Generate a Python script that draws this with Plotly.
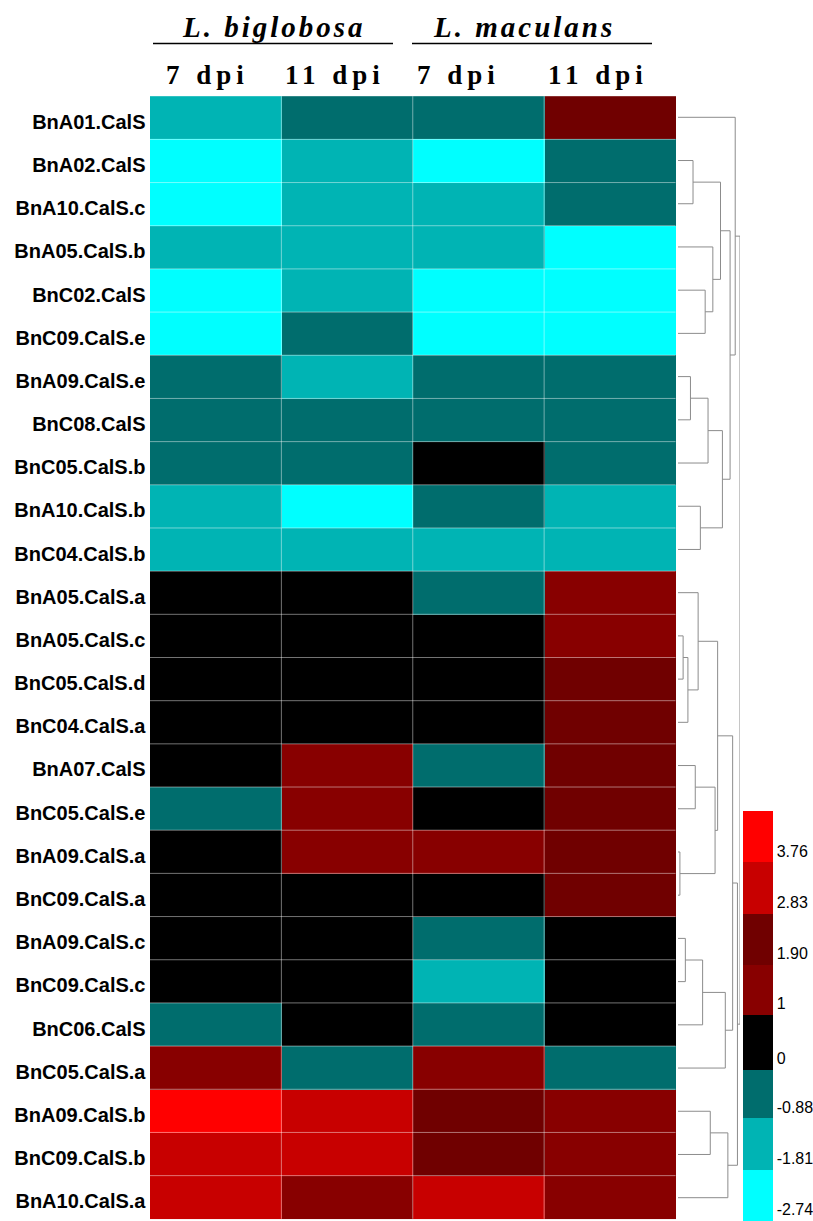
import numpy as np
import plotly.graph_objects as go

# ---------------- data ----------------
genes = [
    "BnA01.CalS", "BnA02.CalS", "BnA10.CalS.c", "BnA05.CalS.b", "BnC02.CalS",
    "BnC09.CalS.e", "BnA09.CalS.e", "BnC08.CalS", "BnC05.CalS.b", "BnA10.CalS.b",
    "BnC04.CalS.b", "BnA05.CalS.a", "BnA05.CalS.c", "BnC05.CalS.d", "BnC04.CalS.a",
    "BnA07.CalS", "BnC05.CalS.e", "BnA09.CalS.a", "BnC09.CalS.a", "BnA09.CalS.c",
    "BnC09.CalS.c", "BnC06.CalS", "BnC05.CalS.a", "BnA09.CalS.b", "BnC09.CalS.b",
    "BnA10.CalS.a",
]
conditions = ["L. biglobosa 7 dpi", "L. biglobosa 11 dpi", "L. maculans 7 dpi", "L. maculans 11 dpi"]

# log2 fold change per gene
lb_7dpi = [-1.35, -2.31, -2.42, -1.28, -2.55, -2.38, -0.46, -0.52, -0.61, -1.44,
           -1.22, 0.41, 0.55, 0.38, 0.62, 0.47, -0.58, 0.36, 0.52, 0.44,
           0.33, -0.49, 1.46, 4.12, 3.24, 3.08]
lb_11dpi = [-0.55, -1.31, -1.26, -1.19, -1.37, -0.62, -1.48, -0.44, -0.51, -2.47,
            -1.24, 0.48, 0.37, 0.52, 0.41, 1.52, 1.38, 1.61, 0.58, 0.46,
            0.39, 0.63, -0.57, 3.31, 3.17, 1.43]
lm_7dpi = [-0.48, -2.29, -1.33, -1.21, -2.44, -2.36, -0.53, -0.42, 0.57, -0.66,
           -1.18, -0.51, 0.44, 0.36, 0.49, -0.47, 0.28, 1.58, 0.61, -0.39,
           -1.42, -0.55, 1.36, 2.21, 2.36, 3.12]
lm_11dpi = [2.24, -0.57, -0.63, -2.33, -2.48, -2.41, -0.45, -0.58, -0.49, -1.36,
            -1.29, 1.41, 1.55, 2.12, 2.27, 2.18, 2.35, 2.08, 2.22, 0.43,
            0.51, 0.38, -0.61, 1.47, 1.35, 1.52]

# colour key
bounds = [-2.74, -1.81, -0.88, 0, 1, 1.90, 2.83, 3.76, 4.69]
bound_labels = ["-2.74", "-1.81", "-0.88", "0", "1", "1.90", "2.83", "3.76"]
bin_colors = ["#00FFFF", "#00B4B4", "#006D6D", "#000000",
              "#880000", "#700000", "#C80000", "#FF0000"]

# hierarchical clustering of the genes: (node, left child, right child, distance)
merges = [
    ("D", 1, 2, 0.47), ("F", 4, 5, 0.85), ("E", 3, "F", 1.09), ("C", "D", "E", 1.33),
    ("I", 6, 7, 0.39), ("H", "I", 8, 0.94), ("J", 9, 10, 0.70), ("G", "H", "J", 1.39),
    ("B", "C", "G", 1.63), ("A", 0, "B", 1.79),
    ("K", 12, 13, 0.16), ("L", "K", 14, 0.31), ("M", 11, "L", 0.63),
    ("O", 15, 16, 0.54), ("Q", 17, 18, 0.06), ("P", "O", "Q", 1.16), ("N", "M", "P", 1.24),
    ("S", 19, 20, 0.23), ("T", "S", 21, 0.77), ("U", "T", 22, 1.48), ("R", "N", "U", 1.71),
    ("V", 23, 24, 1.01), ("W", "V", 25, 1.56), ("X", "R", "W", 1.86),
    ("root", "A", "X", 1.94),
]

# ---------------- figure ----------------
W, H = 813, 1221
Z = np.column_stack([lb_7dpi, lb_11dpi, lm_7dpi, lm_11dpi])
zmin, zmax = bounds[0], bounds[-1]

colorscale = []
for i, c in enumerate(bin_colors):
    t0 = (bounds[i] - zmin) / (zmax - zmin)
    t1 = (bounds[i + 1] - zmin) / (zmax - zmin)
    colorscale += [[t0, c], [t1, c]]

fig = go.Figure()
fig.add_trace(go.Heatmap(
    z=Z, x=conditions, y=genes, zmin=zmin, zmax=zmax, colorscale=colorscale,
    xaxis="x", yaxis="y",
    colorbar=dict(
        x=743 / W, xanchor="left", y=0, yanchor="bottom",
        len=410, lenmode="pixels", thickness=30, thicknessmode="pixels",
        outlinewidth=0, ticks="", xpad=0, ypad=0,
        tickvals=bounds[:-1], ticktext=bound_labels,
        ticklabelposition="outside top",
        tickfont=dict(family="Liberation Sans, Arial", size=16, color="black"),
    ),
))

# dendrogram lines
pos = {i: (float(i), 0.0) for i in range(len(genes))}
dx, dy = [], []
for node, a, b, h in merges:
    ya, ha = pos[a]
    yb, hb = pos[b]
    dx += [ha, h, h, hb, None]
    dy += [ya, ya, yb, yb, None]
    pos[node] = ((ya + yb) / 2, h)
fig.add_trace(go.Scatter(x=dx, y=dy, mode="lines", xaxis="x2", yaxis="y2",
                         line=dict(color="#8c8c8c", width=1), hoverinfo="skip",
                         showlegend=False))

y_dom = [(H - 1219.3) / H, (H - 95.7) / H]
fig.update_layout(
    width=W, height=H, margin=dict(l=0, r=0, t=0, b=0),
    paper_bgcolor="white", plot_bgcolor="white", showlegend=False,
    xaxis=dict(domain=[149.5 / W, 676 / W], showticklabels=False, ticks="",
               showgrid=False, zeroline=False, fixedrange=True),
    yaxis=dict(domain=y_dom, autorange="reversed", ticks="", showgrid=False,
               zeroline=False, ticklabelstandoff=3, ticklabelshift=-4,
               tickfont=dict(family="Liberation Sans, Arial", size=20, color="black",
                             weight="bold")),
    xaxis2=dict(domain=[678 / W, 740 / W], range=[0, 1.94], visible=False, anchor="y2"),
    yaxis2=dict(domain=y_dom, range=[len(genes) - 0.5, -0.5], visible=False, anchor="x2"),
)

# cell separators
shapes = []
for i in range(1, len(genes)):
    shapes.append(dict(type="line", xref="x", yref="y", x0=-0.5, x1=3.5, y0=i - 0.5, y1=i - 0.5,
                       line=dict(color="rgba(255,255,255,0.45)", width=1)))
for j in range(1, len(conditions)):
    shapes.append(dict(type="line", xref="x", yref="y", x0=j - 0.5, x1=j - 0.5, y0=-0.5,
                       y1=len(genes) - 0.5, line=dict(color="rgba(255,255,255,0.45)", width=1)))
# underlines beneath the pathogen names
for x0, x1 in [(153, 393), (412, 652)]:
    shapes.append(dict(type="line", xref="paper", yref="paper", x0=x0 / W, x1=x1 / W,
                       y0=(H - 43.5) / H, y1=(H - 43.5) / H, line=dict(color="black", width=1.5)))
fig.update_layout(shapes=shapes)

serif = "Liberation Serif, Times New Roman, serif"
annotations = []
for name, xc in [("L. biglobosa", 274), ("L. maculans", 524)]:
    annotations.append(dict(
        text=f'<span style="letter-spacing:3px"><b><i>{name}</i></b></span>',
        xref="paper", yref="paper", x=xc / W, y=(H - 27) / H,
        xanchor="center", yanchor="middle", showarrow=False,
        font=dict(family=serif, size=29, color="black")))
for label, xc in [("7 dpi", 208), ("11 dpi", 335), ("7 dpi", 458), ("11 dpi", 598)]:
    annotations.append(dict(
        text=f'<span style="letter-spacing:5px"><b>{label}</b></span>',
        xref="paper", yref="paper", x=xc / W, y=(H - 75) / H,
        xanchor="center", yanchor="middle", showarrow=False,
        font=dict(family=serif, size=27, color="black")))
fig.update_layout(annotations=annotations)

fig.write_html("out.html")
